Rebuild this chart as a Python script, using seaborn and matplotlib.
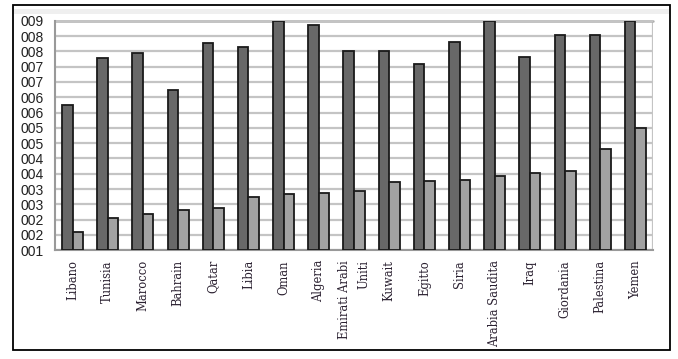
import matplotlib
matplotlib.use("Agg")
import matplotlib.pyplot as plt
import seaborn as sns
import pandas as pd
from matplotlib.patches import Rectangle

countries = ["Libano", "Tunisia", "Marocco", "Bahrain", "Qatar", "Libia", "Oman",
             "Algeria", "Emirati Arabi\nUniti", "Kuwait", "Egitto", "Siria",
             "Arabia Saudita", "Iraq", "Giordania", "Palestina", "Yemen"]
serie_1 = [9.5, 12.55, 12.88, 10.48, 13.53, 13.29, 15.0, 14.75, 13.03, 13.03,
           12.2, 13.62, 14.95, 12.64, 14.05, 14.05, 15.0]
serie_2 = [1.2, 2.11, 2.40, 2.62, 2.77, 3.47, 3.71, 3.75, 3.87, 4.49,
           4.54, 4.6, 4.85, 5.02, 5.19, 6.63, 8.01]
y_tick_labels = ["001", "002", "002", "003", "003", "004", "004", "005", "005",
                 "006", "006", "007", "007", "008", "008", "009"]

df = pd.DataFrame({
    "paese": countries * 2,
    "serie": ["s1"] * len(countries) + ["s2"] * len(countries),
    "valore": serie_1 + serie_2,
})

sns.set_style("white")
plt.rcParams["font.family"] = ["Liberation Sans", "DejaVu Sans"]

W, H = 678, 359
fig = plt.figure(figsize=(W / 100, H / 100), dpi=100)
ax = fig.add_axes([55 / W, 1 - 250.3 / H, (653 - 55) / W, (250.3 - 20.7) / H])

# faint band at top and outer frame
fig.add_artist(Rectangle((14 / W, 1 - 14 / H), (669 - 14) / W, 5 / H,
                         transform=fig.transFigure, facecolor="#efefef",
                         edgecolor="none", zorder=0))
fig.add_artist(Rectangle((13 / W, 1 - 349.5 / H), (670 - 13) / W, (349.5 - 5.3) / H,
                         transform=fig.transFigure, facecolor="none",
                         edgecolor="black", linewidth=1.3, zorder=5))

sns.barplot(data=df, x="paese", y="valore", hue="serie",
            palette=["#686868", "#a2a2a2"], width=0.6, gap=0,
            edgecolor="#1a1a1a", linewidth=1.3, legend=False, ax=ax,
            errorbar=None, zorder=3)

ax.set_xlim(-0.5, len(countries) - 0.5)
ax.set_ylim(0, 15)
ax.set_yticks(range(16))
ax.set_yticklabels(y_tick_labels, fontsize=10, color="#222222")
ax.set_xlabel("")
ax.set_ylabel("")

ax.set_xticks(range(len(countries)))
ax.set_xticklabels(countries, rotation=90, fontsize=8.3, family="DejaVu Serif",
                   color="#2a2030", va="top", ha="center",
                   multialignment="right", linespacing=1.6)
ax.set_xticks([i + 0.5 for i in range(len(countries))], minor=True)
ax.tick_params(axis="x", which="major", length=0, pad=7)
ax.tick_params(axis="x", which="minor", length=4, color="#999999", width=1)
ax.tick_params(axis="y", length=4, color="#999999", width=1, pad=4)

ax.yaxis.grid(True, color="#c4c4c4", linewidth=1.6, zorder=0)
ax.set_axisbelow(True)
for s in ["top", "right"]:
    ax.spines[s].set_visible(False)
ax.spines["left"].set_color("#999999")
ax.spines["left"].set_linewidth(1.5)
ax.spines["bottom"].set_color("#999999")
ax.spines["bottom"].set_linewidth(1.5)
ax.axvline(len(countries) - 0.5, color="#c4c4c4", linewidth=1.6, zorder=0)
ax.axhline(15, color="#b0b0b0", linewidth=1.8, zorder=0, clip_on=False)

fig.savefig("out.png", dpi=100)
